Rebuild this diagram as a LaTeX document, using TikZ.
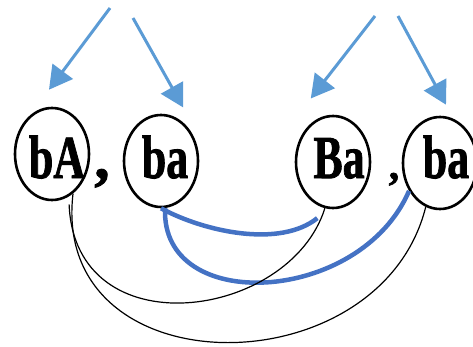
\documentclass[tikz,border=0pt]{standalone}
\usepackage{fontspec}
\usepackage{graphicx}
\usetikzlibrary{shapes.geometric,arrows.meta}
\newfontfamily\lblfont{Liberation Serif Bold}[FakeBold=1.5]
\newcommand{\squeeze}[1]{\scalebox{0.72}[1]{#1}}
\definecolor{lightblue}{RGB}{91,155,213}
\definecolor{darkblue}{RGB}{68,114,196}
\begin{document}
\begin{tikzpicture}[x=1pt,y=-1pt,
		word/.style={draw,ellipse,line width=2.6pt,minimum width=74pt,minimum height=92pt,inner sep=0pt},
		wordtext/.style={inner sep=0pt,anchor=base,font=\lblfont\fontsize{61}{61}\selectfont},
		pointer/.style={lightblue,line width=3pt,-{Triangle[length=23pt,width=25pt]}},
		bluelink/.style={darkblue,line width=4.5pt},
		blacklink/.style={black,line width=1.2pt}]
			\useasboundingbox (0,0) rectangle (473,346);
			
			\node[word] (bA) at (52,154) {};
			\node[word] (ba1) at (161,161) {};
			\node[word] (Ba) at (333,162) {};
			\node[word] (ba2) at (440,163) {};
			
			\node[wordtext] (tA) at (57,178) {\squeeze{bA}};
			\node[wordtext] (ta1) at (165,178) {\squeeze{ba}};
			\node[wordtext] (tB) at (339,178) {\squeeze{Ba}};
			\node[wordtext] (ta2) at (446,178) {\squeeze{ba}};
			
			\node[wordtext] (c1) at (102,178) {,};
			\node[wordtext,font=\lblfont\fontsize{42}{42}\selectfont] (c2) at (394,179) {,};
			
			\coordinate (s1) at (110,8);
			\coordinate (s2) at (133,18);
			\coordinate (s3) at (375,16);
			\coordinate (s4) at (398,16);
			
			\draw[pointer] (s1) -- ([xshift=-3pt,yshift=17pt]bA.north);
			\draw[pointer] (s2) -- ([yshift=15pt]ba1.60);
			\draw[pointer] (s3) -- ([yshift=25pt]Ba.120);
			\draw[pointer] (s4) -- ([xshift=6pt,yshift=11pt]ba2.north);
			
			\draw[bluelink] (ba1.south) .. controls (205,232) and (280,248) .. ([yshift=-13pt]Ba.-110);
			\draw[bluelink] (ba1.-85) .. controls (160,315) and (360,305) .. (ba2.-138);
			
			\draw[blacklink] ([yshift=-8pt]bA.-68) .. controls (75,350) and (290,320) .. (Ba.-100);
			\draw[blacklink] (bA.-62) .. controls (50,390) and (380,390) .. (ba2.-108);
		\end{tikzpicture}
\end{document}
